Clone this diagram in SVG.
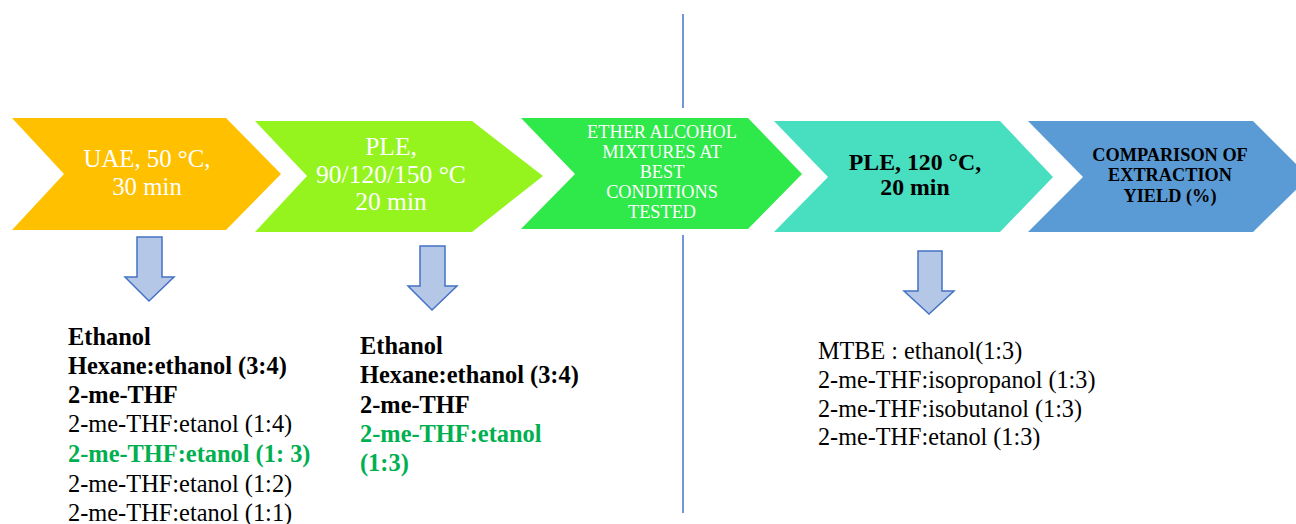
<svg xmlns="http://www.w3.org/2000/svg" width="1296" height="524" viewBox="0 0 1296 524" font-family="Liberation Serif, Times New Roman, serif">
<style>
text{font-family:"Liberation Serif","Times New Roman",serif}
.w{fill:#ffffff;text-anchor:middle}
.k{fill:#000000;text-anchor:middle;font-weight:bold}
.c1{font-size:25.5px}
.c0{font-size:24.8px}
.c3{font-size:18.3px}
.c4{font-size:23.8px}
.c5{font-size:18.3px}
.l{font-size:24.4px;fill:#000}
.l3{font-size:24.2px;fill:#000}
.b{font-weight:bold}
.g{fill:#00B050;font-weight:bold}
.arr{fill:#B4C7E7;stroke:#4472C4;stroke-width:1.5;stroke-linejoin:miter}
.vl{stroke:#4472C4;stroke-width:1.5;fill:none}
</style>
<rect width="1296" height="524" fill="#ffffff"/>
<g id="connectors">
<line class="vl" x1="683" y1="14" x2="683" y2="108"/>
<line class="vl" x1="683" y1="235" x2="683" y2="513"/>
<polygon class="arr" points="137,237 162,237 162,277 174,277 149,301 125,277 137,277"/>
<polygon class="arr" points="420,246 445,246 445,286 457,286 432,310 408,286 420,286"/>
<polygon class="arr" points="918,251 942,251 942,291 954,291 929,314 904,291 918,291"/>
</g>
<g id="n1">
<polygon points="12,118 226,118 281,174 226,230 12,230 64,174" fill="#FFC000"/>
<text class="w c0" x="147" y="167">UAE, 50 °C,</text>
<text class="w c0" x="147" y="195">30 min</text>
</g>
<g id="n2">
<polygon points="255,121 472,121 543,176 472,232 255,232 307,176" fill="#95F41E"/>
<text class="w c1" x="391" y="155">PLE,</text>
<text class="w c1" x="391" y="183">90/120/150 °C</text>
<text class="w c1" x="391" y="210">20 min</text>
</g>
<g id="n3">
<polygon points="521,118 748,118 802,174 748,229 521,229 575,174" fill="#2FE84A"/>
<text class="w c3" x="662" y="138">ETHER ALCOHOL</text>
<text class="w c3" x="662" y="158">MIXTURES AT</text>
<text class="w c3" x="662" y="178">BEST</text>
<text class="w c3" x="662" y="198">CONDITIONS</text>
<text class="w c3" x="662" y="218">TESTED</text>
</g>
<g id="n4">
<polygon points="774,121 1000,121 1053,177 1000,232 774,232 828,177" fill="#48DEC0"/>
<text class="k c4" x="915" y="170">PLE, 120 °C,</text>
<text class="k c4" x="915" y="195">20 min</text>
</g>
<g id="n5">
<polygon points="1028,121 1253,121 1309,177 1253,232 1028,232 1083,177" fill="#5B9BD5"/>
<text class="k c5" x="1170" y="161">COMPARISON OF</text>
<text class="k c5" x="1170" y="181">EXTRACTION</text>
<text class="k c5" x="1170" y="202">YIELD (%)</text>
</g>
<g id="list1">
<text class="l b" x="68" y="345">Ethanol</text>
<text class="l b" x="68" y="374">Hexane:ethanol (3:4)</text>
<text class="l b" x="68" y="403">2-me-THF</text>
<text class="l" x="68" y="432">2-me-THF:etanol (1:4)</text>
<text class="l g" x="68" y="462">2-me-THF:etanol (1: 3)</text>
<text class="l" x="68" y="492">2-me-THF:etanol (1:2)</text>
<text class="l" x="68" y="521">2-me-THF:etanol (1:1)</text>
</g>
<g id="list2">
<text class="l b" x="360" y="354">Ethanol</text>
<text class="l b" x="360" y="383">Hexane:ethanol (3:4)</text>
<text class="l b" x="360" y="413">2-me-THF</text>
<text class="l g" x="360" y="442">2-me-THF:etanol</text>
<text class="l g" x="360" y="471">(1:3)</text>
</g>
<g id="list3">
<text class="l3" x="818" y="359">MTBE : ethanol(1:3)</text>
<text class="l3" x="818" y="388">2-me-THF:isopropanol (1:3)</text>
<text class="l3" x="818" y="417">2-me-THF:isobutanol (1:3)</text>
<text class="l3" x="818" y="445">2-me-THF:etanol (1:3)</text>
</g>
</svg>
